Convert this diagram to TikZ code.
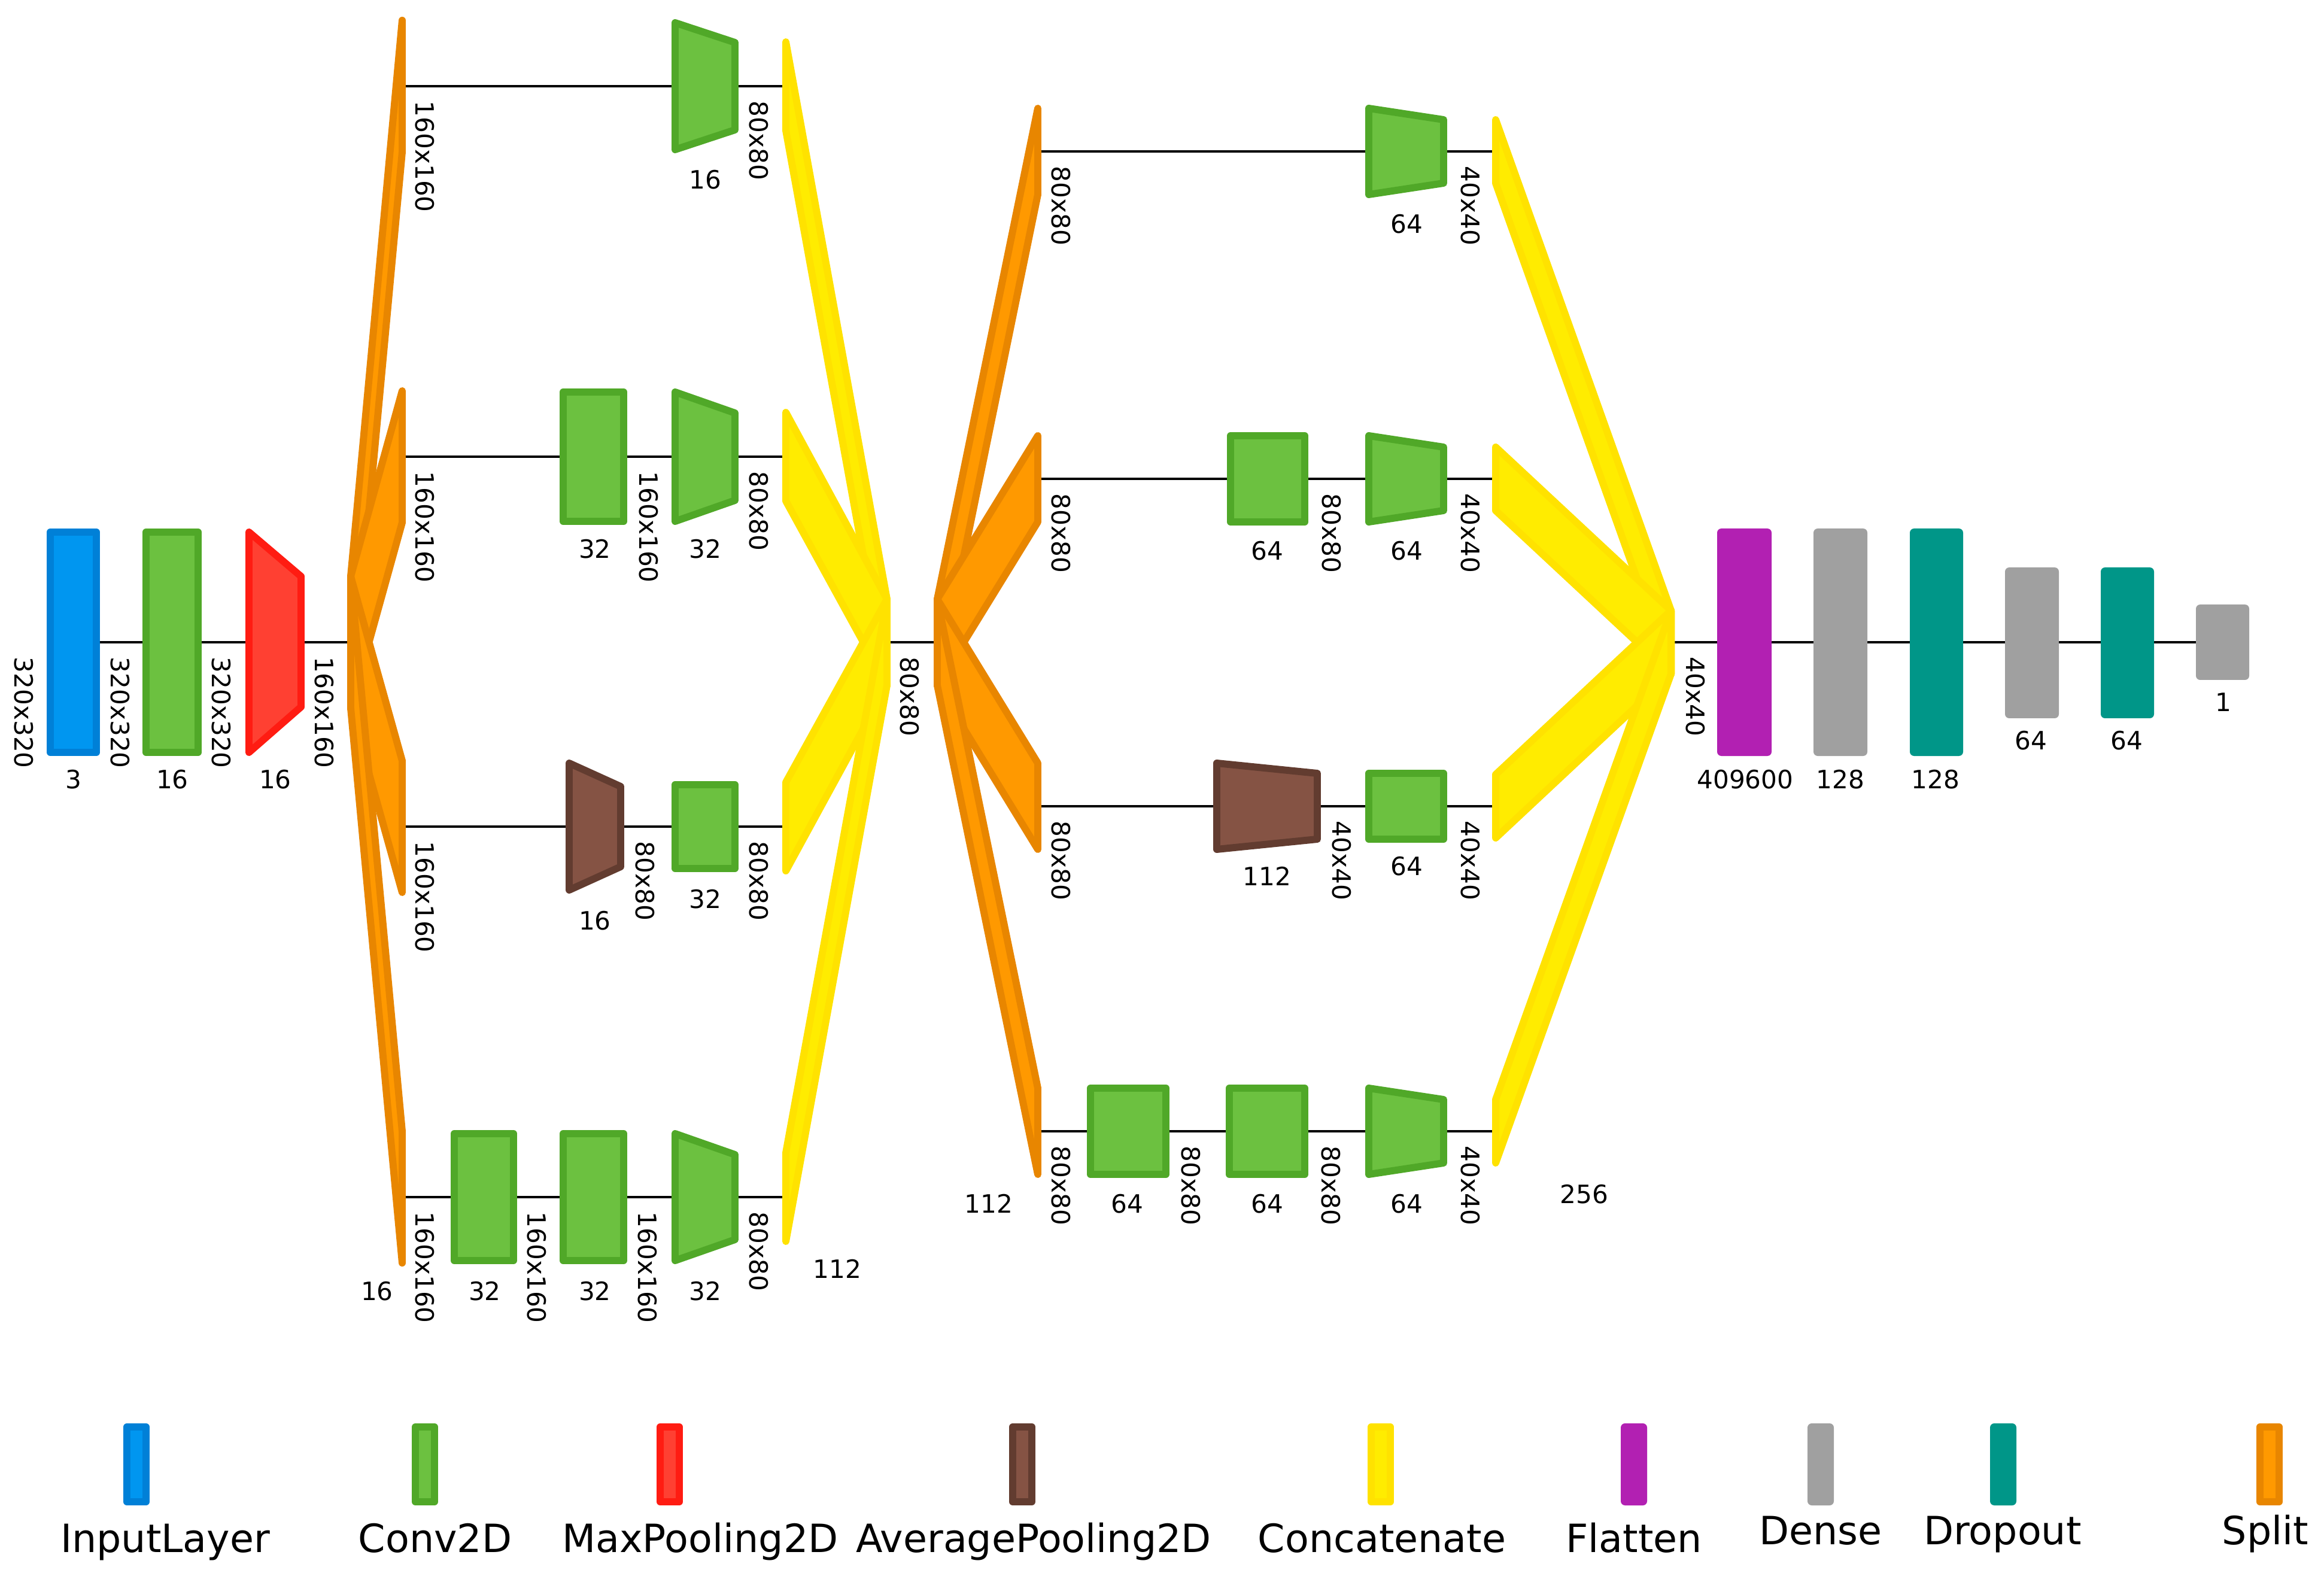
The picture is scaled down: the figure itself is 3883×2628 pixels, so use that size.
\documentclass[tikz,border=0pt]{standalone}
\usepackage{fontspec}
\setmainfont{DejaVu Sans}

\definecolor{inpfill}{RGB}{0,150,240}
\definecolor{inpline}{RGB}{0,128,215}
\definecolor{convfill}{RGB}{108,193,64}
\definecolor{convline}{RGB}{80,168,40}
\definecolor{maxfill}{RGB}{255,64,50}
\definecolor{maxline}{RGB}{255,28,18}
\definecolor{avgfill}{RGB}{133,83,68}
\definecolor{avgline}{RGB}{98,60,48}
\definecolor{catfill}{RGB}{255,236,0}
\definecolor{catline}{RGB}{255,226,0}
\definecolor{splitfill}{RGB}{255,153,0}
\definecolor{splitline}{RGB}{232,134,0}
\definecolor{flatcol}{RGB}{178,32,178}
\definecolor{densecol}{RGB}{160,160,160}
\definecolor{dropcol}{RGB}{0,150,136}

\tikzset{
  lyr/.style={line width=3.4pt, line join=round},
  inplyr/.style={lyr, draw=inpline, fill=inpfill},
  convlyr/.style={lyr, draw=convline, fill=convfill},
  maxlyr/.style={lyr, draw=maxline, fill=maxfill},
  avglyr/.style={lyr, draw=avgline, fill=avgfill},
  catlyr/.style={lyr, draw=catline, fill=catfill},
  splitlyr/.style={lyr, draw=splitline, fill=splitfill},
  flatlyr/.style={fill=flatcol, rounded corners=2pt},
  denselyr/.style={fill=densecol, rounded corners=2pt},
  droplyr/.style={fill=dropcol, rounded corners=2pt},
  conn/.style={line width=1.2pt},
  dimlbl/.style={font=\fontsize{12}{14}\selectfont, rotate=-90, anchor=west, inner sep=0pt},
  chlbl/.style={font=\fontsize{12}{14}\selectfont, inner sep=0pt},
  leglbl/.style={font=\fontsize{18.5}{22}\selectfont, anchor=base, inner sep=0pt}
}

\begin{document}
\begin{tikzpicture}[x=0.01cm, y=-0.01cm]
      \useasboundingbox (0,0) rectangle (3883,2628);

      % junction points
      \coordinate (inl) at (122,1073);
      \coordinate (sA) at (586,1073);
      \coordinate (sA1) at (672,144);
      \coordinate (sA2) at (672,763);
      \coordinate (sA3) at (672,1381);
      \coordinate (sA4) at (672,2000);
      \coordinate (cA1) at (1313,144);
      \coordinate (cA2) at (1313,763);
      \coordinate (cA3) at (1313,1381);
      \coordinate (cA4) at (1313,2000);
      \coordinate (cA) at (1482,1073);
      \coordinate (sB) at (1566,1073);
      \coordinate (sB1) at (1734,253);
      \coordinate (sB2) at (1734,800);
      \coordinate (sB3) at (1734,1347);
      \coordinate (sB4) at (1734,1890);
      \coordinate (cB1) at (2499,253);
      \coordinate (cB2) at (2499,800);
      \coordinate (cB3) at (2499,1347);
      \coordinate (cB4) at (2499,1890);
      \coordinate (cB) at (2792,1073);
      \coordinate (outl) at (3713,1073);

      % connectors
      \draw[conn] (inl) -- (sA);
      \draw[conn] (sA1) -- (cA1);
      \draw[conn] (sA2) -- (cA2);
      \draw[conn] (sA3) -- (cA3);
      \draw[conn] (sA4) -- (cA4);
      \draw[conn] (cA) -- (sB);
      \draw[conn] (sB1) -- (cB1);
      \draw[conn] (sB2) -- (cB2);
      \draw[conn] (sB3) -- (cB3);
      \draw[conn] (sB4) -- (cB4);
      \draw[conn] (cB) -- (outl);

      % input part
      \draw[inplyr] (84,889) rectangle (161,1257);
      \draw[convlyr] (244,889) rectangle (331,1257);
      \draw[maxlyr] (416,889) -- (503,963) -- (503,1181) -- (416,1257) -- cycle;

      % first split
      \draw[splitlyr] (586,963) -- (672,34) -- (672,254) -- (586,1183) -- cycle;
      \draw[splitlyr] (586,963) -- (672,653) -- (672,873) -- (586,1183) -- cycle;
      \draw[splitlyr] (586,963) -- (672,1271) -- (672,1491) -- (586,1183) -- cycle;
      \draw[splitlyr] (586,963) -- (672,1890) -- (672,2110) -- (586,1183) -- cycle;

      % first block
      \draw[convlyr] (1128,38) -- (1228,71) -- (1228,217) -- (1128,250) -- cycle;
      \draw[convlyr] (941,655) rectangle (1042,871);
      \draw[convlyr] (1128,655) -- (1228,690) -- (1228,836) -- (1128,871) -- cycle;
      \draw[avglyr] (951,1275) -- (1037,1314) -- (1037,1448) -- (951,1487) -- cycle;
      \draw[convlyr] (1128,1311) rectangle (1228,1451);
      \draw[convlyr] (759,1894) rectangle (858,2106);
      \draw[convlyr] (941,1894) rectangle (1042,2106);
      \draw[convlyr] (1128,1894) -- (1228,1929) -- (1228,2071) -- (1128,2106) -- cycle;

      % first concat
      \draw[catlyr] (1313,70) -- (1482,1001) -- (1482,1145) -- (1313,218) -- cycle;
      \draw[catlyr] (1313,689) -- (1482,1001) -- (1482,1145) -- (1313,837) -- cycle;
      \draw[catlyr] (1313,1307) -- (1482,1001) -- (1482,1145) -- (1313,1455) -- cycle;
      \draw[catlyr] (1313,1926) -- (1482,1001) -- (1482,1145) -- (1313,2074) -- cycle;

      % second split
      \draw[splitlyr] (1566,1001) -- (1734,181) -- (1734,325) -- (1566,1145) -- cycle;
      \draw[splitlyr] (1566,1001) -- (1734,728) -- (1734,872) -- (1566,1145) -- cycle;
      \draw[splitlyr] (1566,1001) -- (1734,1275) -- (1734,1419) -- (1566,1145) -- cycle;
      \draw[splitlyr] (1566,1001) -- (1734,1818) -- (1734,1962) -- (1566,1145) -- cycle;

      % second block
      \draw[convlyr] (2287,181) -- (2412,200) -- (2412,306) -- (2287,325) -- cycle;
      \draw[convlyr] (2056,728) rectangle (2180,872);
      \draw[convlyr] (2287,728) -- (2412,747) -- (2412,853) -- (2287,872) -- cycle;
      \draw[avglyr] (2033,1275) -- (2201,1292) -- (2201,1402) -- (2033,1419) -- cycle;
      \draw[convlyr] (2287,1292) rectangle (2412,1402);
      \draw[convlyr] (1822,1818) rectangle (1948,1962);
      \draw[convlyr] (2054,1818) rectangle (2180,1962);
      \draw[convlyr] (2287,1818) -- (2412,1837) -- (2412,1943) -- (2287,1962) -- cycle;

      % second concat
      \draw[catlyr] (2499,200) -- (2792,1020) -- (2792,1126) -- (2499,306) -- cycle;
      \draw[catlyr] (2499,747) -- (2792,1020) -- (2792,1126) -- (2499,853) -- cycle;
      \draw[catlyr] (2499,1294) -- (2792,1020) -- (2792,1126) -- (2499,1400) -- cycle;
      \draw[catlyr] (2499,1837) -- (2792,1020) -- (2792,1126) -- (2499,1943) -- cycle;

      % dense part
      \fill[flatlyr] (2869,883) rectangle (2960,1263);
      \fill[denselyr] (3030,883) rectangle (3120,1263);
      \fill[droplyr] (3191,883) rectangle (3280,1263);
      \fill[denselyr] (3350,948) rectangle (3440,1200);
      \fill[droplyr] (3510,948) rectangle (3599,1200);
      \fill[denselyr] (3669,1010) rectangle (3758,1136);

      % sizes
      \node[dimlbl] (d01) at (40,1097) {320x320};
      \node[dimlbl] (d02) at (201,1097) {320x320};
      \node[dimlbl] (d03) at (370,1097) {320x320};
      \node[dimlbl] (d04) at (542,1097) {160x160};
      \node[dimlbl] (dA1) at (710,168) {160x160};
      \node[dimlbl] (dA2) at (710,787) {160x160};
      \node[dimlbl] (dA3) at (710,1405) {160x160};
      \node[dimlbl] (dA4) at (710,2024) {160x160};
      \node[dimlbl] (dA5) at (1268,168) {80x80};
      \node[dimlbl] (dA6) at (1084,787) {160x160};
      \node[dimlbl] (dA7) at (1268,787) {80x80};
      \node[dimlbl] (dA8) at (1078,1405) {80x80};
      \node[dimlbl] (dA9) at (1268,1405) {80x80};
      \node[dimlbl] (dA10) at (897,2024) {160x160};
      \node[dimlbl] (dA11) at (1082,2024) {160x160};
      \node[dimlbl] (dA12) at (1268,2024) {80x80};
      \node[dimlbl] (dA13) at (1520,1097) {80x80};
      \node[dimlbl] (dB1) at (1773,277) {80x80};
      \node[dimlbl] (dB2) at (1773,824) {80x80};
      \node[dimlbl] (dB3) at (1773,1371) {80x80};
      \node[dimlbl] (dB4) at (1773,1914) {80x80};
      \node[dimlbl] (dB5) at (2457,277) {40x40};
      \node[dimlbl] (dB6) at (2225,824) {80x80};
      \node[dimlbl] (dB7) at (2457,824) {40x40};
      \node[dimlbl] (dB8) at (2242,1371) {40x40};
      \node[dimlbl] (dB9) at (2457,1371) {40x40};
      \node[dimlbl] (dB10) at (1990,1914) {80x80};
      \node[dimlbl] (dB11) at (2224,1914) {80x80};
      \node[dimlbl] (dB12) at (2457,1914) {40x40};
      \node[dimlbl] (dB13) at (2833,1097) {40x40};

      % channels
      \node[chlbl] (c01) at (123,1302) {3};
      \node[chlbl] (c02) at (288,1302) {16};
      \node[chlbl] (c03) at (460,1302) {16};
      \node[chlbl] (cA5) at (1178,300) {16};
      \node[chlbl] (cA6) at (994,917) {32};
      \node[chlbl] (cA7) at (1178,917) {32};
      \node[chlbl] (cA8) at (994,1538) {16};
      \node[chlbl] (cA9) at (1178,1502) {32};
      \node[chlbl] (cA10) at (630,2157) {16};
      \node[chlbl] (cA11) at (810,2157) {32};
      \node[chlbl] (cA12) at (994,2157) {32};
      \node[chlbl] (cA13) at (1178,2157) {32};
      \node[chlbl] (cA14) at (1399,2120) {112};
      \node[chlbl] (cB5) at (2350,374) {64};
      \node[chlbl] (cB6) at (2117,920) {64};
      \node[chlbl] (cB7) at (2350,920) {64};
      \node[chlbl] (cB8) at (2117,1464) {112};
      \node[chlbl] (cB9) at (2350,1447) {64};
      \node[chlbl] (cB10) at (1652,2011) {112};
      \node[chlbl] (cB11) at (1883,2011) {64};
      \node[chlbl] (cB12) at (2117,2011) {64};
      \node[chlbl] (cB13) at (2350,2011) {64};
      \node[chlbl] (cB14) at (2647,1995) {256};
      \node[chlbl] (cD1) at (2916,1302) {409600};
      \node[chlbl] (cD2) at (3075,1302) {128};
      \node[chlbl] (cD3) at (3234,1302) {128};
      \node[chlbl] (cD4) at (3393,1237) {64};
      \node[chlbl] (cD5) at (3553,1237) {64};
      \node[chlbl] (cD6) at (3715,1173) {1};

      % legend
      \draw[inplyr] (212,2384) rectangle (244,2509);
      \draw[convlyr] (694,2384) rectangle (726,2509);
      \draw[maxlyr] (1103,2384) rectangle (1135,2509);
      \draw[avglyr] (1692,2384) rectangle (1724,2509);
      \draw[catlyr] (2291,2384) rectangle (2323,2509);
      \fill[flatlyr] (2708,2378) rectangle (2752,2515);
      \fill[denselyr] (3020,2378) rectangle (3064,2515);
      \fill[droplyr] (3325,2378) rectangle (3369,2515);
      \draw[splitlyr] (3776,2384) rectangle (3808,2509);
      \node[leglbl] (l1) at (276,2593) {InputLayer};
      \node[leglbl] (l2) at (727,2593) {Conv2D};
      \node[leglbl] (l3) at (1170,2593) {MaxPooling2D};
      \node[leglbl] (l4) at (1727,2593) {AveragePooling2D};
      \node[leglbl] (l5) at (2309,2593) {Concatenate};
      \node[leglbl] (l6) at (2730,2593) {Flatten};
      \node[leglbl] (l7) at (3042,2580) {Dense};
      \node[leglbl] (l8) at (3346,2580) {Dropout};
      \node[leglbl] (l9) at (3785,2580) {Split};
    \end{tikzpicture}
\end{document}
